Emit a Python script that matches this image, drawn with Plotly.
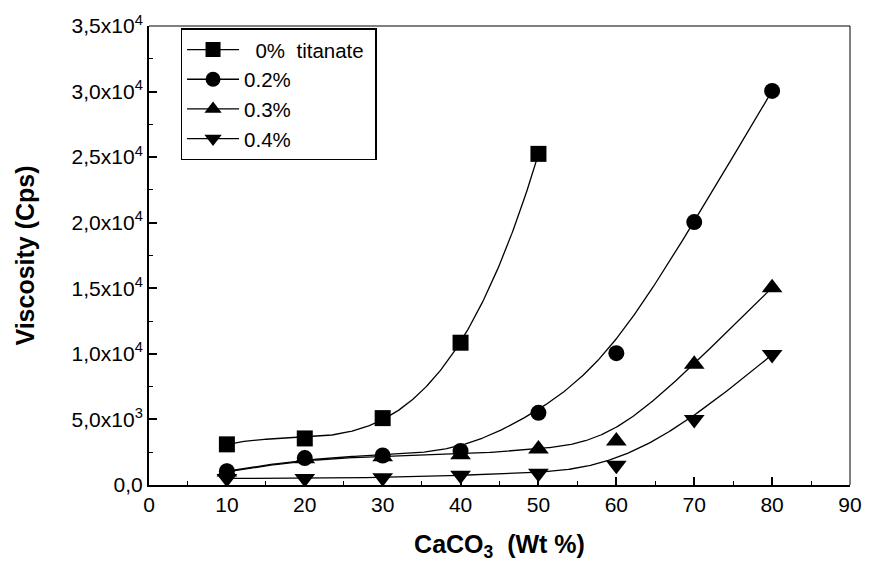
import numpy as np
import plotly.graph_objects as go

# CaCO3 loading (wt %) for each titanate level
x_0 = [10, 20, 30, 40, 50]
x_02 = [10, 20, 30, 40, 50, 60, 70, 80]
x_03 = [10, 20, 30, 40, 50, 60, 70, 80]
x_04 = [10, 20, 30, 40, 50, 60, 70, 80]

# Viscosity (cps)
visc_0 = [3100, 3550, 5100, 10850, 25250]
visc_02 = [1050, 2050, 2250, 2600, 5500, 10050, 20050, 30050]
visc_03 = [1000, 2000, 2150, 2300, 2750, 3350, 9200, 15050]
visc_04 = [500, 500, 550, 750, 900, 1500, 5000, 9950]

series_names = ["\u00a0\u00a00%\u00a0\u00a0titanate\u00a0", "0.2%", "0.3%", "0.4%"]
symbols = ["square", "circle", "triangle-up", "triangle-down"]
# smoothing method for each curve: polynomial fit or B-spline
curve_kind = ["poly3", "bspline", "bspline", "bspline"]

y_tickvals = [0, 5000, 10000, 15000, 20000, 25000, 30000, 35000]
y_ticktext = ["0,0", "5,0x10<sup>3</sup>", "1,0x10<sup>4</sup>", "1,5x10<sup>4</sup>",
              "2,0x10<sup>4</sup>", "2,5x10<sup>4</sup>", "3,0x10<sup>4</sup>", "3,5x10<sup>4</sup>"]

FONT = "Liberation Sans, Arial, sans-serif"


def bspline_curve(px, py, degree=3, samples=300):
    """Clamped uniform B-spline using the points as control points."""
    px = np.asarray(px, float)
    py = np.asarray(py, float)
    n = len(px)
    k = degree
    inner = np.arange(1, n - k)
    knots = np.concatenate([np.zeros(k + 1), inner, np.full(k + 1, n - k)]).astype(float)
    u = np.linspace(0, n - k, samples)
    u[-1] -= 1e-9
    # Cox-de Boor recursion
    N = np.zeros((samples, len(knots) - 1))
    for i in range(len(knots) - 1):
        N[:, i] = (knots[i] <= u) & (u < knots[i + 1])
    for d in range(1, k + 1):
        Nn = np.zeros((samples, len(knots) - 1 - d))
        for i in range(len(knots) - 1 - d):
            a = knots[i + d] - knots[i]
            b = knots[i + d + 1] - knots[i + 1]
            t1 = (u - knots[i]) / a * N[:, i] if a > 0 else 0
            t2 = (knots[i + d + 1] - u) / b * N[:, i + 1] if b > 0 else 0
            Nn[:, i] = t1 + t2
        N = Nn
    return N @ px, N @ py


fig = go.Figure()

data = [(x_0, visc_0), (x_02, visc_02), (x_03, visc_03), (x_04, visc_04)]
for (xs, ys), name, sym, kind in zip(data, series_names, symbols, curve_kind):
    if kind == "bspline":
        xf, yf = bspline_curve(xs, ys)
    else:
        coeffs = np.polyfit(xs, ys, 3)
        xf = np.linspace(min(xs), max(xs), 200)
        yf = np.polyval(coeffs, xf)
    fig.add_trace(go.Scatter(x=xf, y=yf, mode="lines", line=dict(color="black", width=1.3),
                             showlegend=False, hoverinfo="skip"))
    fig.add_trace(go.Scatter(x=xs, y=ys, mode="markers", name=name,
                             marker=dict(symbol=sym, size=18 if sym.startswith("tri") else 16,
                                         color="black"),
                             showlegend=False))
    # legend entry: line with marker
    fig.add_trace(go.Scatter(x=[None], y=[None], mode="lines+markers", name=name,
                             line=dict(color="black", width=1.3),
                             marker=dict(symbol=sym, size=15, color="black")))

fig.update_layout(
    width=874, height=566,
    margin=dict(l=149, r=16, t=16, b=81),
    paper_bgcolor="white", plot_bgcolor="white",
    font=dict(family=FONT, size=21, color="black"),
    legend=dict(x=0.045, y=0.995, xanchor="left", yanchor="top",
                bordercolor="black", borderwidth=1.5, bgcolor="white",
                font=dict(size=20.5), tracegroupgap=0, itemwidth=52),
    xaxis=dict(range=[0, 90], tickvals=list(range(0, 100, 10)),
               ticks="inside", ticklen=8, tickwidth=1.5, tickcolor="black",
               minor=dict(dtick=5, ticks="inside", ticklen=4, tickwidth=1.2, tickcolor="black"),
               showline=True, linecolor="black", linewidth=2, mirror=False,
               showgrid=False, zeroline=False,
               title=dict(text="<b>CaCO<sub>3</sub>\u00a0\u00a0(Wt %)</b>", font=dict(size=25), standoff=20)),
    yaxis=dict(range=[0, 35000], tickvals=y_tickvals, ticktext=y_ticktext,
               ticks="inside", ticklen=8, tickwidth=1.5, tickcolor="black",
               minor=dict(dtick=2500, ticks="inside", ticklen=4, tickwidth=1.2, tickcolor="black"),
               showline=True, linecolor="black", linewidth=2, mirror=False,
               showgrid=False, zeroline=False,
               title=dict(text="<b>Viscosity (Cps)</b>", font=dict(size=25), standoff=30)),
)

# thin frame on the top and right sides of the plot area
fig.add_shape(type="line", xref="paper", yref="paper", x0=0, x1=1, y0=1, y1=1,
              line=dict(color="black", width=1))
fig.add_shape(type="line", xref="paper", yref="paper", x0=1, x1=1, y0=0, y1=1,
              line=dict(color="black", width=1))

fig.write_html("out.html")
